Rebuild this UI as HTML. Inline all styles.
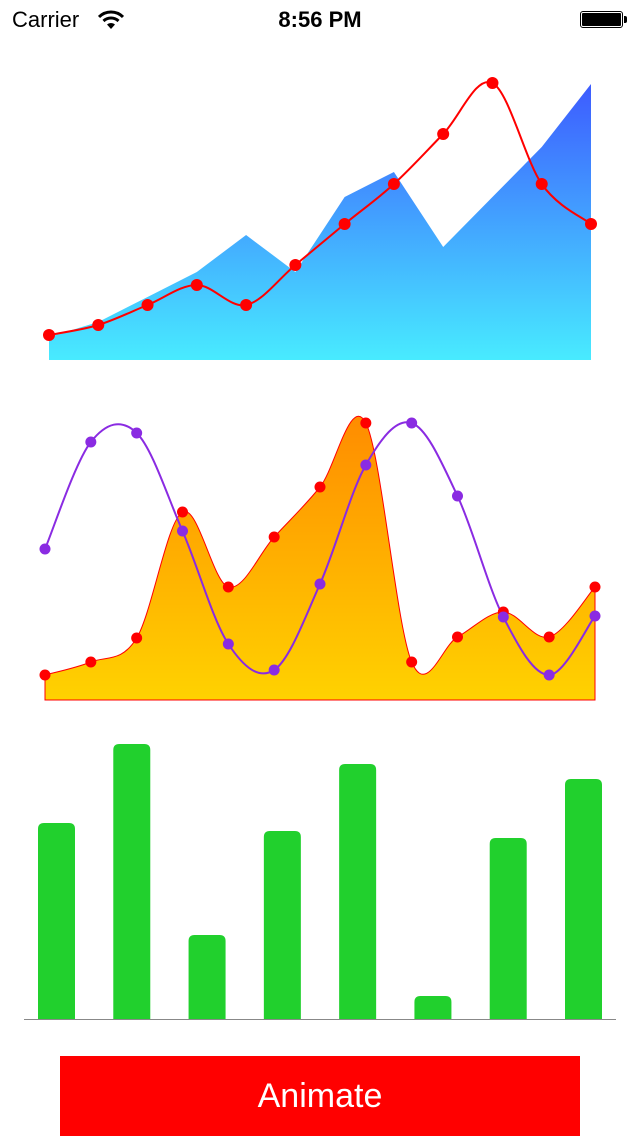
<!DOCTYPE html>
<html><head><meta charset="utf-8">
<style>
html,body{margin:0;padding:0;background:#fff;width:640px;height:1136px;overflow:hidden;font-family:"Liberation Sans",sans-serif;}
#status{position:absolute;left:0;top:0;width:640px;height:40px;}
#btn{position:absolute;left:60px;top:1056px;width:520px;height:80px;background:#ff0000;color:#fff;font-size:34px;line-height:80px;text-align:center;}
svg{position:absolute;left:0;top:0;}
</style></head><body>
<div id="status">
  <span style="position:absolute;left:12px;top:7px;font-size:22px;">Carrier</span>
  <svg style="left:98px;top:10px" width="26" height="20" viewBox="0 0 26 20">
    <path d="M1 7 A17 17 0 0 1 25 7" stroke="#000" stroke-width="3" fill="none"/>
    <path d="M5.5 11 A11 11 0 0 1 20.5 11" stroke="#000" stroke-width="3" fill="none"/>
    <path d="M13 19 L9 14.5 A6 6 0 0 1 17 14.5 Z" fill="#000"/>
  </svg>
  <span style="position:absolute;left:0;width:640px;text-align:center;top:7px;font-size:22px;font-weight:bold;">8:56 PM</span>
  <div style="position:absolute;left:580px;top:11px;width:43px;height:17px;border:1px solid #000;border-radius:3px;box-sizing:border-box;padding:1px;"><div style="background:#000;width:100%;height:100%;border-radius:1px"></div></div>
  <div style="position:absolute;left:624px;top:16px;width:3px;height:7px;background:#000;border-radius:0 2px 2px 0"></div>
</div>
<svg id="chart" width="640" height="1136">
<defs>
<linearGradient id="g1" x1="0" y1="0" x2="0" y2="1"><stop offset="0" stop-color="#3d5bff"/><stop offset="1" stop-color="#48ebff"/></linearGradient>
<linearGradient id="g2" x1="0" y1="0" x2="0" y2="1"><stop offset="0" stop-color="#ff8c00"/><stop offset="1" stop-color="#ffd200"/></linearGradient>
</defs>
</svg>
<div id="btn">Animate</div>
<script>
const areaValues=[23,38,63,88,125,88,163,188,113,163,213,276];
const lineValues=[25,35,55,75,55,95,136,176,226,277,176,136];
const orangeValues=[25,38,62,188,113,163,213,277,38,63,88,63,113];
const purpleValues=[151,258,267,169,56,30,116,235,277,204,83,25,84];
const barValues=[196,275,84,188,255,23,181,240];
const NS="http://www.w3.org/2000/svg";
const svg=document.getElementById('chart');
function mk(t,a){const e=document.createElementNS(NS,t);for(const k in a)e.setAttribute(k,a[k]);svg.appendChild(e);return e;}
function spline(p){let d=`M${p[0][0]},${p[0][1]}`;for(let i=0;i<p.length-1;i++){const p0=p[i-1]||p[i],p1=p[i],p2=p[i+1],p3=p[i+2]||p2;const c1=[p1[0]+(p2[0]-p0[0])/6,p1[1]+(p2[1]-p0[1])/6],c2=[p2[0]-(p3[0]-p1[0])/6,p2[1]-(p3[1]-p1[1])/6];d+=` C${c1[0]},${c1[1]} ${c2[0]},${c2[1]} ${p2[0]},${p2[1]}`;}return d;}
// chart 1
const x1=i=>49+i*(591-49)/11, y1=v=>360-v;
let ap=areaValues.map((v,i)=>[x1(i),y1(v)]);
let a=mk('path',{d:`M${x1(0)},360 `+ap.map(p=>`L${p[0]},${p[1]}`).join(' ')+` L${x1(11)},360 Z`,fill:'url(#g1)'});

let lp=lineValues.map((v,i)=>[x1(i),y1(v)]);
let l=mk('path',{d:spline(lp),fill:'none',stroke:'#ff0000','stroke-width':2});

lp.forEach(p=>{const c=mk('circle',{cx:p[0],cy:p[1],r:6,fill:'#ff0000'});});
// chart 2
const x2=i=>45+i*(595-45)/12, y2=v=>700-v;
let op=orangeValues.map((v,i)=>[x2(i),y2(v)]);
let o=mk('path',{d:spline(op)+` L${x2(12)},700 L${x2(0)},700 Z`,fill:'url(#g2)',stroke:'#ff0000','stroke-width':1});

let pp=purpleValues.map((v,i)=>[x2(i),y2(v)]);
let pl=mk('path',{d:spline(pp),fill:'none',stroke:'#8a2be2','stroke-width':2});

op.forEach(p=>{const c=mk('circle',{cx:p[0],cy:p[1],r:5.5,fill:'#ff0000'});});
pp.forEach(p=>{const c=mk('circle',{cx:p[0],cy:p[1],r:5.5,fill:'#8a2be2'});});
// chart 3
const base=1019, bx=i=>38+i*(565-38)/7, bw=37;
barValues.forEach((v,i)=>{const x=bx(i),t=base-v,r=6;
const b=mk('path',{d:`M${x},${base} L${x},${t+r} Q${x},${t} ${x+r},${t} L${x+bw-r},${t} Q${x+bw},${t} ${x+bw},${t+r} L${x+bw},${base} Z`,fill:'#21d02d'});
});
const ax=mk('line',{x1:24,x2:616,y1:base+0.5,y2:base+0.5,stroke:'#888','stroke-width':1});

</script>
</body></html>
